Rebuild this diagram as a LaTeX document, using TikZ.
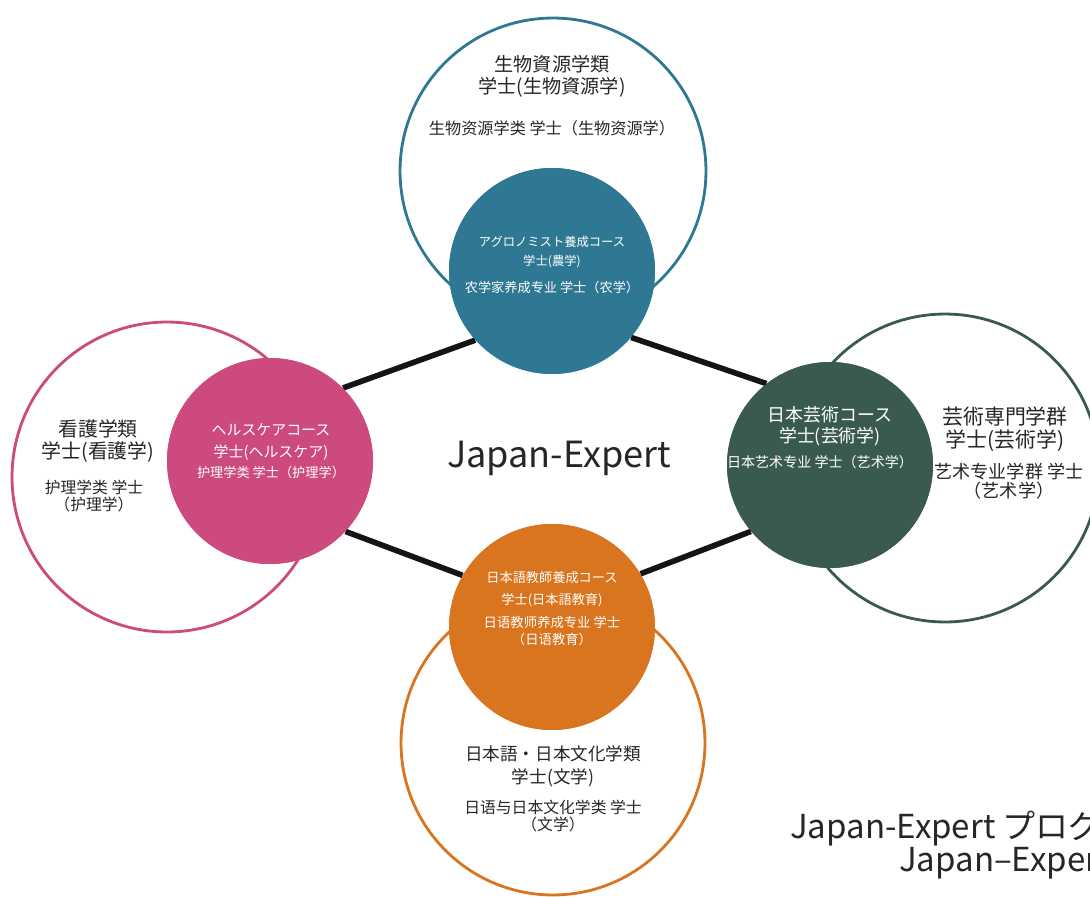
\documentclass[tikz,border=0pt]{standalone}
\usepackage{fontspec}
\setmainfont{Noto Sans CJK JP}
\newfontfamily\hanzi{Noto Sans CJK SC}

\definecolor{agroteal}{HTML}{2F7894}
\definecolor{carepink}{HTML}{CC4A7E}
\definecolor{artgreen}{HTML}{3B5A4E}
\definecolor{langorange}{HTML}{D9741F}
\definecolor{inkgray}{HTML}{262626}

\begin{document}
\begin{tikzpicture}[x=0.02cm,y=-0.02cm,
    ring/.style={circle,draw,line width=1.6pt,minimum size=#1,inner sep=0pt},
    disc/.style={circle,fill,minimum size=4.12cm,inner sep=0pt},
    link/.style={line width=3.2pt,black!92},
    jp/.style={align=center,text=inkgray,font=\fontsize{10.9}{12.5}\selectfont},
    cn/.style={align=center,text=inkgray,font=\hanzi\fontsize{9.2}{10.2}\selectfont}]
    \useasboundingbox (0,0) rectangle (1090,897);
    \clip (0,0) rectangle (1090,897);

    % draw outer rings
    \node[ring=6.12cm,agroteal] (bio) at (553,171) {};
    \node[ring=6.2cm,carepink] (nurse) at (167,477) {};
    \node[ring=6.16cm,artgreen] (arts) at (945,468) {};
    \node[ring=6.08cm,langorange] (lang) at (553,743) {};

    % draw course discs
    \node[disc,agroteal] (agro) at (552,271) {};
    \node[disc,carepink] (care) at (270,461) {};
    \node[disc,artgreen] (art) at (830,465) {};
    \node[disc,langorange] (teach) at (552,627) {};

    % draw links
    \draw[link] (care.45) -- (agro.222);
    \draw[link] (agro.320) -- (art.128);
    \draw[link] (care.317) -- (teach.150);
    \draw[link] (teach.31) -- (art.220);
    % discs again on top of the links
    \node[disc,agroteal] at (agro) {};
    \node[disc,carepink] at (care) {};
    \node[disc,artgreen] at (art) {};
    \node[disc,langorange] at (teach) {};

    % labels in the rings
    \node[jp] (bioJP) at (552,76) {生物資源学類\\学士(生物資源学)};
    \node[cn] (bioCN) at (552,128) {生物资源学类 学士（生物资源学）};
    \node[jp,font=\fontsize{11.3}{12.8}\selectfont] (nurseJP) at (98,441) {看護学類\\学士(看護学)};
    \node[cn,font=\hanzi\fontsize{9}{10.2}\selectfont] (nurseCN) at (94,496) {护理学类 学士\\（护理学）};
    \node[jp,font=\fontsize{11.9}{12.8}\selectfont] (artsJP) at (1005,429) {芸術専門学群\\学士(芸術学)};
    \node[cn,font=\hanzi\fontsize{10.3}{10.5}\selectfont] (artsCN) at (1009,481) {艺术专业学群 学士\\（艺术学）};
    \node[jp,font=\fontsize{10}{13}\selectfont] (langJP) at (553,766) {日本語・日本文化学類\\学士(文学)};
    \node[cn,font=\hanzi\fontsize{9}{10.2}\selectfont] (langCN) at (553,816) {日语与日本文化学类 学士\\（文学）};

    % labels in the discs
    \node[jp,white,font=\fontsize{7}{10.8}\selectfont] (agroJP) at (552,252) {アグロノミスト養成コース\\学士(農学)};
    \node[cn,white,font=\hanzi\fontsize{7.5}{10}\selectfont] (agroCN) at (552,287) {农学家养成专业 学士（农学）};
    \node[jp,white,font=\fontsize{8.5}{12}\selectfont] (careJP) at (271,442) {ヘルスケアコース\\学士(ヘルスケア)};
    \node[cn,white,font=\hanzi\fontsize{7.5}{10}\selectfont] (careCN) at (271,472) {护理学类 学士（护理学）};
    \node[jp,white,font=\fontsize{10.2}{12}\selectfont] (artJP) at (830,426) {日本芸術コース\\学士(芸術学)};
    \node[cn,white,font=\hanzi\fontsize{8}{10}\selectfont] (artCN) at (820,462) {日本艺术专业 学士（艺术学）};
    \node[jp,white,font=\fontsize{7.5}{12.5}\selectfont] (teachJP) at (552,589) {日本語教師養成コース\\学士(日本語教育)};
    \node[cn,white,font=\hanzi\fontsize{7.6}{10.2}\selectfont] (teachCN) at (552,631) {日语教师养成专业 学士\\（日语教育）};

    % titles
    \node[text=inkgray,font=\fontsize{20.5}{24}\selectfont] (title) at (559,458) {Japan-Expert};
    \node[anchor=west,text=inkgray,font=\fontsize{18.8}{22}\selectfont] (prog) at (784,828) {Japan-Expert プログラム};
    \node[anchor=west,text=inkgray,font=\fontsize{18.8}{22}\selectfont] (progCN) at (893,863) {Japan–Expert};
\end{tikzpicture}
\end{document}
